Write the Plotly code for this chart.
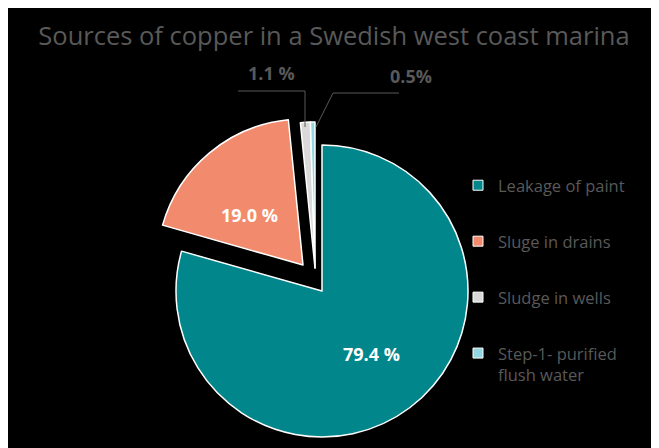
import plotly.graph_objects as go

# ---- data ----
categories = ["Leakage of paint", "Sluge in drains", "Sludge in wells", "Step-1- purified flush water"]
legend_labels = ["Leakage of paint", "Sluge in drains", "Sludge in wells", "Step-1- purified<br>flush water"]
values = [79.4, 19.0, 1.1, 0.5]
value_labels = ["79.4 %", "19.0 %", "1.1 %", "0.5%"]
colors = ["#00868B", "#F28B6D", "#D9D9D9", "#93D7E3"]
title_text = "Sources of copper in a Swedish west coast marina"

# page offset of the figure (default body margin) and figure size
OX, OY = 8, 8
W, H = 651, 440


def px(x):
    return (x - OX) / W


def py(y):
    return 1 - (y - OY) / H


R = 146  # pie radius in px
TEXT = "#595959"
CLEAR = "rgba(0,0,0,0)"

fig = go.Figure()

# slice groups: (indices visible, centre in page px) - exploded slices drawn with own centre
groups = [([0], (322, 291)), ([1], (303, 265)), ([2, 3], (315, 268))]
for idx, (cx, cy) in groups:
    cols = [colors[i] if i in idx else CLEAR for i in range(len(values))]
    lw = [1.5 if i in idx else 0 for i in range(len(values))]
    fig.add_trace(go.Pie(
        labels=categories, values=values, sort=False, direction="clockwise",
        rotation=0, textinfo="none", hoverinfo="label+percent", showlegend=False,
        marker=dict(colors=cols, line=dict(color="white", width=lw)),
        domain=dict(x=[px(cx - R), px(cx + R)], y=[py(cy + R), py(cy - R)]),
    ))

# legend entries
for i, (lab, c) in enumerate(zip(legend_labels, colors)):
    fig.add_trace(go.Scatter(
        x=[None], y=[None], mode="markers", name=lab, legendgroup=f"g{i}",
        marker=dict(symbol="square", size=10, color=c, line=dict(color="white", width=1)),
    ))

# value labels
label_pos = [(371, 354, "white"), (249, 215, "white"), (271, 73, TEXT), (411, 76, TEXT)]
for (x, y, col), t in zip(label_pos, value_labels):
    fig.add_annotation(x=px(x), y=py(y), xref="paper", yref="paper", text=f"<b>{t}</b>",
                       xanchor="center", yanchor="middle",
                       showarrow=False, font=dict(family="Open Sans", size=18, color=col))

shapes = [
    dict(type="path", xref="paper", yref="paper",
         path=f"M {px(238)} {py(91)} L {px(305)} {py(91)} L {px(305)} {py(127)}",
         line=dict(color=TEXT, width=1)),
    dict(type="path", xref="paper", yref="paper",
         path=f"M {px(399)} {py(93)} L {px(333)} {py(93)} L {px(316)} {py(127)}",
         line=dict(color=TEXT, width=1)),
]

fig.update_layout(
    width=W, height=H,
    margin=dict(l=0, r=0, t=0, b=0, pad=0),
    paper_bgcolor="black", plot_bgcolor=CLEAR,
    shapes=shapes,
    title=dict(text=title_text, x=px(334), xanchor="center", y=py(36), yanchor="middle",
               font=dict(family="Open Sans", size=25.5, color=TEXT)),
    xaxis=dict(visible=False), yaxis=dict(visible=False),
    legend=dict(x=px(458), y=py(168), xanchor="left", yanchor="top",
                font=dict(family="Open Sans", size=16.5, color=TEXT),
                bgcolor=CLEAR, traceorder="grouped", tracegroupgap=31.5, valign="top"),
)

fig.write_html("out.html")
